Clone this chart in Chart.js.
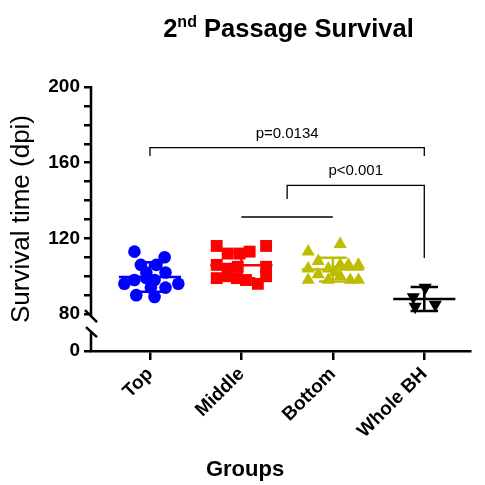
<!DOCTYPE html>
<html lang="en">
<head>
<meta charset="UTF-8">
<title>2nd Passage Survival</title>
<script src="https://cdn.jsdelivr.net/npm/chart.js"></script>
<style>
  html, body { margin: 0; padding: 0; background: #fff; }
  #wrap { width: 485px; height: 485px; }
</style>
</head>
<body>
<div id="wrap"><canvas id="chart" width="485" height="485"></canvas></div>
<script>
  const groups = ['Top', 'Middle', 'Bottom', 'Whole BH'];

  // survival time (dpi) per animal, with the horizontal scatter of each dot
  const topValues = [113, 110, 106, 106, 102, 102, 96, 98, 99, 98, 96, 90, 94, 89, 94];
  const topJitter = [-0.17, 0.16, -0.10, 0.07, -0.04, 0.17, -0.28, -0.17, -0.04, 0.05, 0.31, -0.15, 0.01, 0.05, 0.17];
  const middleValues = [116, 116, 112, 112, 113, 106, 104, 105, 105, 99, 100, 99, 98, 96, 100];
  const middleJitter = [-0.27, 0.27, -0.15, -0.02, 0.09, -0.27, -0.15, -0.04, 0.27, -0.27, -0.15, -0.05, 0.05, 0.18, 0.27];
  const bottomValues = [117, 113, 108, 104, 101, 104, 106, 106, 106, 98, 98, 100, 98, 98, 102];
  const bottomJitter = [0.08, -0.27, -0.16, -0.27, -0.16, -0.05, 0.08, 0.17, 0.28, -0.27, -0.05, 0.08, 0.19, 0.28, 0.02];
  const wholeValues = [94, 89, 84, 85];
  const wholeJitter = [0.01, -0.12, -0.10, 0.12];

  // mean and SD bars as drawn
  const meanValues = [99.6, 105.8, 103.5, 88];
  const sdValues = [7.8, 6.8, 6.3, 6.3];

  const yLabelTicks = [80, 120, 160, 200];
  const yMinorTicks = [90, 100, 110, 130, 140, 150, 170, 180, 190];
  const yZeroAt = 60.5;   // "0" sits below the axis break

  // significance brackets: x in group index, y in dpi
  const bracketFrom = [0, 1.5];
  const bracketTo = [3, 3];
  const bracketTop = [168, 148];
  const bracketLeftEnd = [163.5, 140.8];
  const bracketRightEnd = [163.5, 109.6];
  const bracketLabels = ['p=0.0134', 'p<0.001'];
  // line joining Middle and Bottom under the second bracket
  const joinFrom = 1, joinTo = 2, joinAt = 131.3;

  const colors = ['#0000FF', '#FF0000', '#BDBD00', '#000000'];
  const FONT = '"Liberation Sans", Arial, sans-serif';

  function points(values, jitter, i) {
    return values.map((v, k) => ({ x: i + jitter[k], y: v }));
  }

  const errorBars = {
    id: 'errorBars',
    afterDatasetsDraw(chart) {
      const xs = chart.scales.x, ys = chart.scales.y, ctx = chart.ctx;
      ctx.save();
      ctx.lineWidth = 2.5;
      meanValues.forEach((m, i) => {
        const cx = xs.getPixelForValue(i);
        const wMean = xs.getPixelForValue(i + 0.34) - cx;
        const wCap = xs.getPixelForValue(i + 0.15) - cx;
        const yM = ys.getPixelForValue(m);
        const yHi = ys.getPixelForValue(m + sdValues[i]);
        const yLo = ys.getPixelForValue(m - sdValues[i]);
        ctx.strokeStyle = colors[i];
        ctx.beginPath();
        ctx.moveTo(cx - wMean, yM); ctx.lineTo(cx + wMean, yM);
        ctx.moveTo(cx, yHi); ctx.lineTo(cx, yLo);
        ctx.moveTo(cx - wCap, yHi); ctx.lineTo(cx + wCap, yHi);
        ctx.moveTo(cx - wCap, yLo); ctx.lineTo(cx + wCap, yLo);
        ctx.stroke();
      });
      ctx.restore();
    }
  };

  const brackets = {
    id: 'brackets',
    afterDraw(chart) {
      const xs = chart.scales.x, ys = chart.scales.y, ctx = chart.ctx;
      ctx.save();
      ctx.strokeStyle = '#000';
      ctx.lineWidth = 1.3;
      ctx.fillStyle = '#000';
      ctx.font = '15px ' + FONT;
      ctx.textAlign = 'center';
      ctx.textBaseline = 'alphabetic';
      bracketFrom.forEach((f, i) => {
        const x1 = xs.getPixelForValue(f), x2 = xs.getPixelForValue(bracketTo[i]);
        const yT = ys.getPixelForValue(bracketTop[i]);
        ctx.beginPath();
        ctx.moveTo(x1, ys.getPixelForValue(bracketLeftEnd[i]));
        ctx.lineTo(x1, yT);
        ctx.lineTo(x2, yT);
        ctx.lineTo(x2, ys.getPixelForValue(bracketRightEnd[i]));
        ctx.stroke();
        ctx.fillText(bracketLabels[i], (x1 + x2) / 2, yT - 10);
      });
      const yj = ys.getPixelForValue(joinAt);
      ctx.beginPath();
      ctx.moveTo(xs.getPixelForValue(joinFrom), yj);
      ctx.lineTo(xs.getPixelForValue(joinTo), yj);
      ctx.stroke();
      ctx.restore();
    }
  };

  // y axis drawn by hand so it can carry the break between 0 and 80
  const axisBreak = {
    id: 'axisBreak',
    afterDraw(chart) {
      const ys = chart.scales.y, ctx = chart.ctx;
      const x0 = chart.chartArea.left;
      const yTop = ys.getPixelForValue(200);
      const y80 = ys.getPixelForValue(80);
      const y0 = ys.getPixelForValue(yZeroAt);
      ctx.save();
      ctx.strokeStyle = '#000';
      ctx.lineWidth = 2.5;
      ctx.beginPath();
      ctx.moveTo(x0, yTop - 1); ctx.lineTo(x0, y80 + 2);
      ctx.moveTo(x0 - 6, y80 - 4); ctx.lineTo(x0 + 6, y80 + 8);
      ctx.moveTo(x0 - 5, y80 + 13); ctx.lineTo(x0 + 6, y80 + 23);
      ctx.moveTo(x0, y80 + 18); ctx.lineTo(x0, y0 + 1);
      ctx.stroke();
      ctx.restore();
    }
  };

  const titles = {
    id: 'titles',
    afterDraw(chart) {
      const ctx = chart.ctx, area = chart.chartArea;
      ctx.save();
      ctx.fillStyle = '#000';
      ctx.textBaseline = 'alphabetic';
      ctx.textAlign = 'left';
      const big = 'bold 25.5px ' + FONT, small = 'bold 16px ' + FONT;
      ctx.font = big;
      const w1 = ctx.measureText('2').width;
      const w3 = ctx.measureText(' Passage Survival').width;
      ctx.font = small;
      const w2 = ctx.measureText('nd').width;
      let x = (area.left + area.right) / 2 + 8 - (w1 + w2 + w3) / 2;
      const base = 37;
      ctx.font = big; ctx.fillText('2', x, base); x += w1;
      ctx.font = small; ctx.fillText('nd', x, base - 10); x += w2;
      ctx.font = big; ctx.fillText(' Passage Survival', x, base);
      ctx.font = 'bold 22px ' + FONT;
      ctx.textAlign = 'center';
      ctx.fillText('Groups', 245, 476);
      ctx.restore();
    }
  };

  new Chart(document.getElementById('chart'), {
    type: 'scatter',
    data: {
      datasets: [
        { data: points(topValues, topJitter, 0), pointStyle: 'circle', pointRadius: 6.3,
          backgroundColor: colors[0], borderColor: colors[0], borderWidth: 0 },
        { data: points(middleValues, middleJitter, 1), pointStyle: 'rect', pointRadius: 8.4,
          backgroundColor: colors[1], borderColor: colors[1], borderWidth: 0 },
        { data: points(bottomValues, bottomJitter, 2), pointStyle: 'triangle', pointRadius: 7.6,
          backgroundColor: colors[2], borderColor: colors[2], borderWidth: 0 },
        { data: points(wholeValues, wholeJitter, 3), pointStyle: 'triangle', rotation: 180, pointRadius: 7.6,
          backgroundColor: colors[3], borderColor: colors[3], borderWidth: 0 }
      ]
    },
    options: {
      responsive: false,
      animation: false,
      layout: { padding: { top: 87, right: 15, left: 0, bottom: 0 } },
      plugins: { legend: { display: false }, tooltip: { enabled: false } },
      scales: {
        x: {
          type: 'linear',
          min: -0.645,
          max: 3.5,
          afterBuildTicks: s => { s.ticks = groups.map((g, i) => ({ value: i })); },
          afterFit: s => { s.height = 134; },
          grid: { drawOnChartArea: false, drawTicks: true, tickLength: 9, color: '#000', lineWidth: 2.5 },
          border: { display: true, color: '#000', width: 2.5 },
          ticks: {
            autoSkip: false, minRotation: 45, maxRotation: 45, padding: 3,
            color: '#000', font: { family: FONT, size: 19, weight: 'bold' },
            callback: v => groups[v] ?? ''
          }
        },
        y: {
          type: 'linear',
          min: yZeroAt,
          max: 200,
          afterBuildTicks: s => {
            s.ticks = [yZeroAt, ...yLabelTicks, ...yMinorTicks].sort((a, b) => a - b).map(v => ({ value: v }));
          },
          afterFit: s => { s.width = 91; },
          grid: { drawOnChartArea: false, drawTicks: true, tickLength: 7, color: '#000', lineWidth: 2.5 },
          border: { display: false },
          ticks: {
            autoSkip: false, padding: 4, color: '#000',
            font: { family: FONT, size: 19, weight: 'bold' },
            callback: v => v === yZeroAt ? '0' : (yLabelTicks.includes(v) ? String(v) : '')
          },
          title: {
            display: true, text: 'Survival time (dpi)', color: '#000',
            font: { family: FONT, size: 26 }, padding: { top: 6, bottom: 0 }
          }
        }
      }
    },
    plugins: [errorBars, brackets, axisBreak, titles]
  });
</script>
</body>
</html>
